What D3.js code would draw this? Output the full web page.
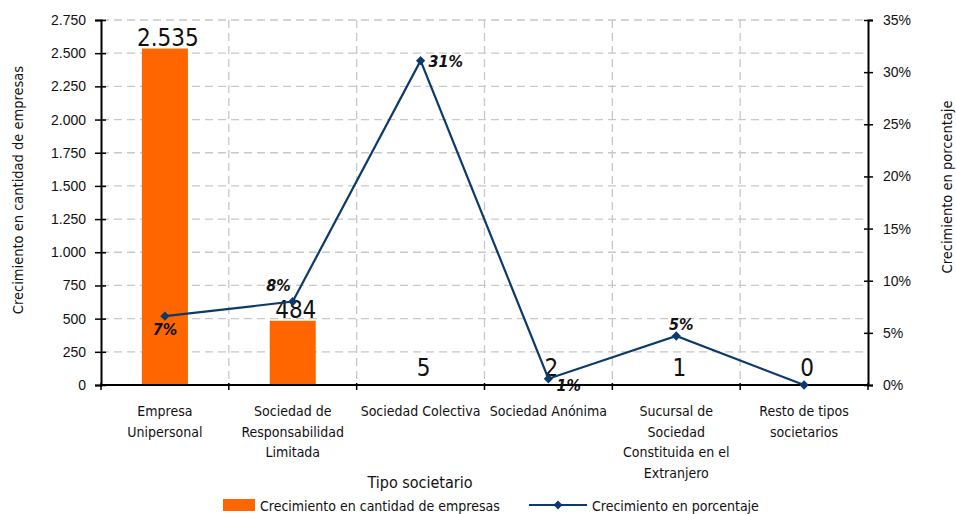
<!DOCTYPE html>
<html><head><meta charset="utf-8">
<script src="https://cdn.jsdelivr.net/npm/d3@7"></script>
<style>
body{margin:0;background:#fff;}
svg{display:block;}
text{font-family:"Liberation Sans Narrow","Arial Narrow","DejaVu Sans Condensed",sans-serif;fill:#111;}
</style></head><body>
<svg id="c" width="956" height="514"></svg>
<script>
const categories = ["Empresa\nUnipersonal","Sociedad de\nResponsabilidad\nLimitada","Sociedad Colectiva","Sociedad Anónima","Sucursal de\nSociedad\nConstituida en el\nExtranjero","Resto de tipos\nsocietarios"];
const countValues = [2535, 484, 5, 2, 1, 0];
const pctValues = [0.066, 0.080, 0.311, 0.006, 0.047, 0];
const pctLabels = ["7%","8%","31%","1%","5%",null];
const pctLabelPlacement = ["below","aboveLeft","right","belowRight","above","none"];
const leftTicks = [0,250,500,750,1000,1250,1500,1750,2000,2250,2500,2750];
const rightTicks = [0,0.05,0.10,0.15,0.20,0.25,0.30,0.35];
const seriesNames = ["Crecimiento en cantidad de empresas","Crecimiento en porcentaje"];

const svg = d3.select("#c");
const L = 101, R = 868, T = 20, B = 385;
const loc = d3.formatLocale({decimal:",", thousands:".", grouping:[3], currency:["",""]});
const fmtN = loc.format(",.0f");
const fmtP = d3.format(".0%");

const x = d3.scaleBand().domain(categories).range([L, R]).paddingInner(0).paddingOuter(0);
const yL = d3.scaleLinear().domain([0, 2750]).range([B, T]);
const yR = d3.scaleLinear().domain([0, 0.35]).range([B, T]);

// gridlines horizontal
svg.append("g").selectAll("line").data(leftTicks.filter(d=>d>0)).join("line")
  .attr("x1", L).attr("x2", R).attr("y1", d=>yL(d)).attr("y2", d=>yL(d))
  .attr("stroke", "#c8c8c8").attr("stroke-width", 1.3).attr("stroke-dasharray", "8,5");
// gridlines vertical
svg.append("g").selectAll("line").data(categories.slice(1)).join("line")
  .attr("x1", d=>x(d)).attr("x2", d=>x(d)).attr("y1", T).attr("y2", B)
  .attr("stroke", "#c8c8c8").attr("stroke-width", 1.3).attr("stroke-dasharray", "8,5");

// bars
const bw = x.bandwidth()*0.36;
svg.append("g").selectAll("rect").data(countValues).join("rect")
  .attr("x", (d,i)=>x(categories[i]) + x.bandwidth()/2 - bw/2)
  .attr("width", bw)
  .attr("y", d=>yL(d)).attr("height", d=>B - yL(d))
  .attr("fill", "#ff6600");

// left axis
const axL = svg.append("g").attr("transform", `translate(${L},0)`)
  .call(d3.axisLeft(yL).tickValues(leftTicks).tickFormat(fmtN).tickSize(6).tickPadding(9));
axL.select(".domain").attr("stroke", "#000").attr("stroke-width", 2);
axL.selectAll(".tick line").attr("stroke","#000").attr("stroke-width",1.5).attr("x2",-6).attr("x1",5);
axL.selectAll("text").style("font-size","14px").style("font-family",'"Liberation Sans Narrow","Arial Narrow",sans-serif').attr("fill","#222");

// right axis
const axR = svg.append("g").attr("transform", `translate(${R},0)`)
  .call(d3.axisRight(yR).tickValues(rightTicks).tickFormat(fmtP).tickSize(5).tickPadding(10));
axR.select(".domain").attr("stroke", "#000").attr("stroke-width", 2);
axR.selectAll(".tick line").attr("stroke","#000").attr("stroke-width",1.5).attr("x1",-4).attr("x2",5);
axR.selectAll("text").style("font-size","14px").style("font-family",'"Liberation Sans Narrow","Arial Narrow",sans-serif').attr("fill","#222");

// bottom axis
svg.append("line").attr("x1", L).attr("x2", R).attr("y1", B).attr("y2", B).attr("stroke","#000").attr("stroke-width",2);
const bounds = categories.map(c=>x(c)).concat([R]);
svg.append("g").selectAll("line").data(bounds).join("line")
  .attr("x1", d=>d).attr("x2", d=>d).attr("y1", B-2).attr("y2", B+5)
  .attr("stroke","#000").attr("stroke-width",1.5);

// category labels
const cl = svg.append("g").selectAll("text").data(categories).join("text")
  .attr("x", d=>x(d)+x.bandwidth()/2).attr("y", 416).attr("text-anchor","middle")
  .style("font-size","14px").attr("fill","#222");
cl.each(function(d){
  const lines = d.split("\n");
  d3.select(this).selectAll("tspan").data(lines).join("tspan")
    .attr("x", x(d)+x.bandwidth()/2).attr("dy", (l,i)=> i===0?0:20.5).text(l=>l);
});

// bar value labels
svg.append("g").selectAll("text").data(countValues).join("text")
  .attr("x", (d,i)=>x(categories[i])+x.bandwidth()/2 + 3)
  .attr("y", d=>Math.min(yL(d)-3, B-9))
  .attr("text-anchor","middle")
  .style("font-size","24px").attr("fill","#111")
  .text(d=>fmtN(d));

// line
const cx = i => x(categories[i]) + x.bandwidth()/2;
const line = d3.line().x((d,i)=>cx(i)).y(d=>yR(d));
svg.append("path").datum(pctValues).attr("d", line).attr("fill","none")
  .attr("stroke","#0b3a6b").attr("stroke-width",2.2);
svg.append("g").selectAll("path").data(pctValues).join("path")
  .attr("transform",(d,i)=>`translate(${cx(i)},${yR(d)})`)
  .attr("d", d3.symbol(d3.symbolDiamond2, 55)).attr("fill","#0b3a6b");

// pct labels
const offs = {below:[0,19,"middle"], aboveLeft:[-2,-11,"end"], right:[8,6,"start"], belowRight:[8,12,"start"], above:[5,-6,"middle"], none:[0,0,"middle"]};
svg.append("g").selectAll("text").data(pctValues).join("text")
  .attr("x",(d,i)=>cx(i)+offs[pctLabelPlacement[i]][0])
  .attr("y",(d,i)=>yR(d)+offs[pctLabelPlacement[i]][1])
  .attr("text-anchor",(d,i)=>offs[pctLabelPlacement[i]][2])
  .style("font-size","16px").style("font-style","italic").style("font-weight","bold").attr("fill","#222")
  .text((d,i)=>pctLabels[i]||"");

// axis titles
svg.append("text").attr("transform",`translate(23,190) rotate(-90)`).attr("text-anchor","middle")
  .style("font-size","14.5px").attr("fill","#222").text("Crecimiento en cantidad de empresas");
svg.append("text").attr("transform",`translate(952,187) rotate(-90)`).attr("text-anchor","middle")
  .style("font-size","14.5px").attr("fill","#222").text("Crecimiento en porcentaje");
svg.append("text").attr("x", 420).attr("y", 488).attr("text-anchor","middle")
  .style("font-size","16px").attr("fill","#222").text("Tipo societario");

// legend
const lg = svg.append("g");
lg.append("rect").attr("x",223).attr("y",499).attr("width",32).attr("height",12).attr("fill","#ff6600");
lg.append("text").attr("x",260).attr("y",511).style("font-size","14px").attr("fill","#222").text(seriesNames[0]);
lg.append("line").attr("x1",529).attr("x2",587).attr("y1",505).attr("y2",505).attr("stroke","#0b3a6b").attr("stroke-width",2.2);
lg.append("path").attr("transform","translate(558,505)").attr("d", d3.symbol(d3.symbolDiamond2, 50)).attr("fill","#0b3a6b");
lg.append("text").attr("x",592).attr("y",511).style("font-size","14px").attr("fill","#222").text(seriesNames[1]);
</script></body></html>
